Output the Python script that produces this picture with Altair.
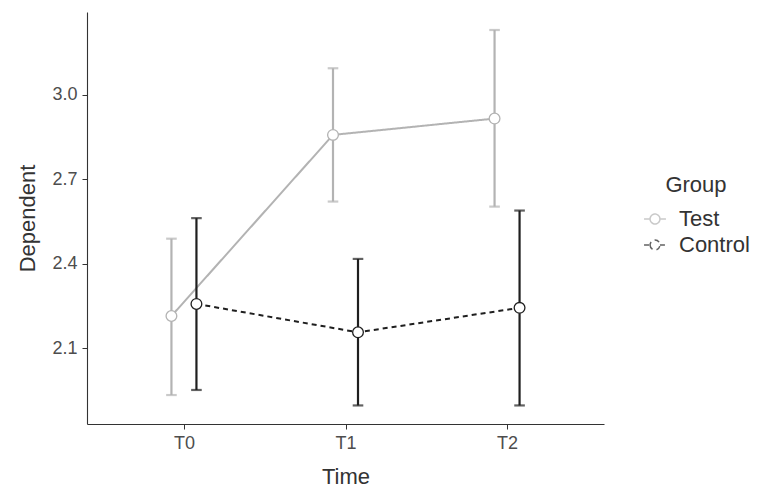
import altair as alt
import pandas as pd

times = ["T0", "T1", "T2"]
groups = ["Test", "Control"]
test_mean = [2.214, 2.858, 2.916]
test_low = [1.933, 2.621, 2.603]
test_high = [2.489, 3.095, 3.231]
ctrl_mean = [2.257, 2.156, 2.243]
ctrl_low = [1.951, 1.896, 1.896]
ctrl_high = [2.562, 2.417, 2.589]

rows = []
for i, t in enumerate(times):
    rows.append(dict(Time=t, Group="Test", mean=test_mean[i], low=test_low[i], high=test_high[i]))
for i, t in enumerate(times):
    rows.append(dict(Time=t, Group="Control", mean=ctrl_mean[i], low=ctrl_low[i], high=ctrl_high[i]))
df = pd.DataFrame(rows)

FONT = "Liberation Sans"
grey = "#b3b3b3"
dark = "#1f1f1f"

x = alt.X("Time:N", scale=alt.Scale(type="point", padding=0.6),
          axis=alt.Axis(title="Time", labelAngle=0, labelFontSize=18))
xoff = alt.XOffset("Group:N", scale=alt.Scale(type="point", domain=groups, range=[-12.5, 12.5], padding=0))
yscale = alt.Scale(domain=[1.83, 3.295], nice=False, zero=False)
cscale = alt.Scale(domain=groups, range=[grey, dark])
legend = alt.Legend(
    title="Group",
    symbolType="M-1,0 L-0.45,0 M0.45,0 L1,0 M-0.45,0 A0.45,0.45 0 1,0 0.45,0 A0.45,0.45 0 1,0 -0.45,0 Z",
    symbolSize=480, symbolStrokeWidth=1.5, symbolFillColor="white",
)
stroke = alt.Stroke("Group:N", scale=cscale, legend=legend)

base = alt.Chart(df)

lines = base.mark_line(strokeWidth=2).encode(
    x=x, xOffset=xoff,
    y=alt.Y("mean:Q", scale=yscale,
            axis=alt.Axis(title="Dependent", values=[2.1, 2.4, 2.7, 3.0], format=".1f", labelFontSize=18)),
    stroke=stroke,
    strokeDash=alt.StrokeDash("Group:N", scale=alt.Scale(domain=groups, range=[[1, 0], [5, 4]]), legend=None),
)

rules = base.mark_rule(strokeWidth=2.2).encode(
    x=x, xOffset=xoff, y="low:Q", y2="high:Q", stroke=stroke,
)
cap_lo = base.mark_tick(size=9, thickness=0.6, filled=False, strokeWidth=1.6).encode(
    x=x, xOffset=xoff, y="low:Q", stroke=stroke,
)
cap_hi = base.mark_tick(size=9, thickness=0.6, filled=False, strokeWidth=1.6).encode(
    x=x, xOffset=xoff, y="high:Q", stroke=stroke,
)
points = base.mark_point(filled=False, fill="white", fillOpacity=1, size=115, strokeWidth=1.3, opacity=1).encode(
    x=x, xOffset=xoff, y="mean:Q", stroke=stroke,
)

chart = alt.layer(lines, rules, cap_lo, cap_hi, points).properties(
    width=517, height=412,
    autosize=alt.AutoSizeParams(type="none"),
    padding={"left": 79, "top": 4, "right": 153, "bottom": 70},
).configure_view(stroke=None).configure_axis(
    grid=False, domainColor="#333333", tickColor="#333333", domainWidth=1.1,
    tickSize=5, labelFont=FONT, labelFontSize=18, labelColor="#4d4d4d",
    titleFont=FONT, titleFontSize=22, titleFontWeight="normal", titleColor="#333333",
    labelPadding=5,
).configure_axisX(titlePadding=14, labelFontSize=18).configure_axisY(titlePadding=12).configure_legend(
    orient="none", legendX=556, legendY=163,
    titleFont=FONT, titleFontSize=22, titleFontWeight="normal", titleColor="#333333",
    titleAnchor="middle",
    labelFont=FONT, labelFontSize=22, labelColor="#333333", labelOffset=12,
    rowPadding=3, titlePadding=10,
)

chart.save("out.html", embed_options={"renderer": "svg", "actions": False})
